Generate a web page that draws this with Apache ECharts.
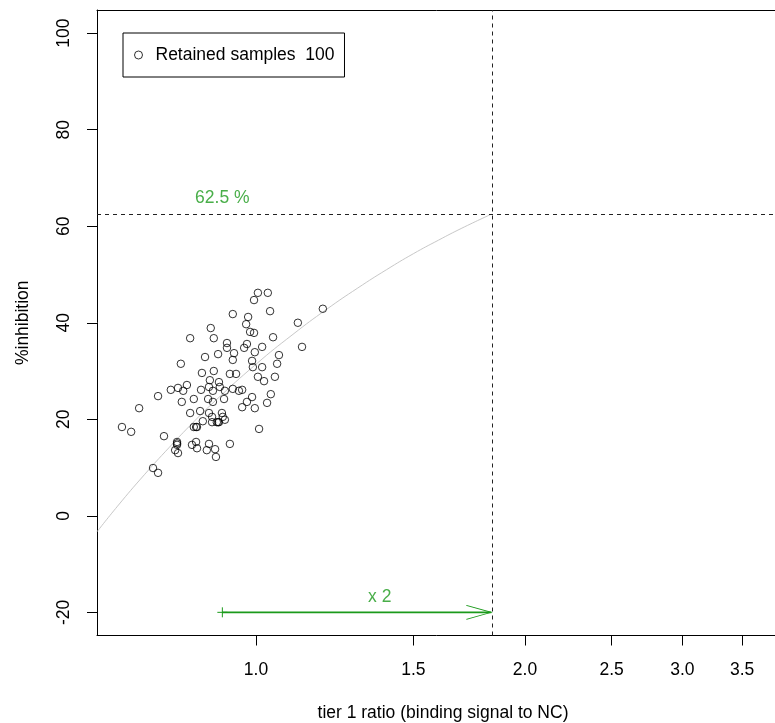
<!DOCTYPE html>
<html>
<head>
<meta charset="utf-8">
<title>Tier 1 ratio vs %inhibition</title>
<script src="https://cdn.jsdelivr.net/npm/echarts@6/dist/echarts.min.js"></script>
<style>
  html, body { margin: 0; padding: 0; background: #ffffff; }
  #chart { width: 775px; height: 723px; }
</style>
</head>
<body>
<div id="chart"></div>
<script>
// Retained samples: tier 1 ratio (binding signal to NC) and %inhibition
const sampleRatio = [
  0.708, 0.725, 0.740, 0.777, 0.789, 0.767, 0.777, 0.803, 0.818, 0.837,
  0.829, 0.824, 0.844, 0.826, 0.852, 0.844, 0.866, 0.870, 0.868, 0.877,
  0.890, 0.897, 0.907, 0.888, 0.909, 0.886, 0.911, 0.895, 0.923, 0.942,
  0.957, 0.884, 0.895, 0.921, 0.886, 0.916, 0.918, 0.893, 0.872, 0.893,
  0.904, 0.909, 0.923, 0.852, 0.859, 0.816, 0.816, 0.812, 0.818, 0.848,
  0.857, 0.859, 0.886, 0.881, 0.900, 0.902, 0.935, 0.897, 0.935, 0.950,
  0.942, 0.945, 0.928, 0.928, 0.942, 1.005, 1.031, 0.995, 1.037, 1.188,
  0.980, 0.975, 1.114, 0.985, 0.995, 1.045, 0.977, 0.970, 0.997, 1.016,
  1.126, 1.061, 1.056, 0.990, 0.992, 1.016, 1.005, 1.021, 1.050, 0.965,
  1.039, 0.990, 0.977, 0.965, 0.997, 1.029, 1.008, 0.907, 0.857, 0.816
];
const sampleInhibition = [
  18.4, 17.4, 22.3, 24.8, 16.5, 9.9, 8.9, 26.1, 26.5, 27.1,
  25.9, 31.5, 36.8, 23.6, 24.2, 21.3, 21.7, 29.6, 26.1, 32.9,
  38.9, 36.8, 33.5, 28.1, 27.7, 26.7, 26.7, 25.9, 25.9, 26.3,
  25.9, 24.2, 23.6, 24.2, 21.3, 21.3, 20.5, 20.5, 19.6, 19.4,
  19.4, 19.4, 19.9, 18.4, 18.4, 15.3, 14.7, 13.6, 13.0, 14.7,
  15.3, 14.0, 14.9, 13.6, 13.8, 12.2, 14.9, 30.0, 29.4, 29.4,
  32.3, 33.7, 35.8, 34.8, 41.8, 46.2, 46.2, 44.7, 42.4, 42.9,
  41.2, 39.7, 40.0, 38.1, 37.9, 37.0, 35.6, 34.8, 33.9, 35.0,
  35.0, 33.3, 31.5, 32.1, 30.8, 30.8, 28.8, 27.9, 28.8, 26.1,
  25.2, 24.6, 23.6, 22.5, 22.3, 23.4, 18.0, 19.4, 18.4, 15.0
];

// Fitted response curve, drawn up to the cut point
const curveRatio = [0.664, 0.70, 0.75, 0.80, 0.85, 0.90, 1.00, 1.10, 1.20, 1.30, 1.40, 1.50, 1.60, 1.70, 1.834];
const curveInhibition = [-3.3, 2.0, 8.5, 14.2, 19.3, 23.8, 31.4, 37.6, 42.8, 47.2, 51.0, 54.3, 57.1, 59.6, 62.5];

// Cut point: median ratio doubled, and its %inhibition on the curve
const medianRatio = 0.917;
const foldChange = 2;
const cutRatio = 1.834;
const cutInhibition = 62.5;
const arrowLevel = -20;

// Axis limits and tick labels (the right part of the frame runs past the page edge)
const xLimits = [0.6639, 3.949];
const yLimits = [-24.8, 104.8];
const xTickLabels = [1.0, 1.5, 2.0, 2.5, 3.0, 3.5];
const yTickLabels = [-20, 0, 20, 40, 60, 80, 100];

const legendName = 'Retained samples  ' + sampleRatio.length;
const GREEN = '#1b9a1b';
const FONT = 'Liberation Sans, Arial, sans-serif';
const FS = 17.5;

// The x axis is logarithmic: positions are placed on ln(ratio)
const ln = Math.log;
const points = sampleRatio.map((r, i) => [ln(r), sampleInhibition[i]]);
const curve = curveRatio.map((r, i) => [ln(r), curveInhibition[i]]);

const frameLine = { show: true, onZero: false, lineStyle: { color: '#000', width: 1 } };

const chart = echarts.init(document.getElementById('chart'), null, { renderer: 'canvas' });

chart.setOption({
  animation: false,
  backgroundColor: '#ffffff',
  textStyle: { fontFamily: FONT },
  grid: {
    left: 97, top: 10, right: -14, bottom: 87.5,
    show: false, containLabel: false, outerBoundsMode: 'none'
  },
  legend: {
    left: 123, top: 33,
    orient: 'vertical',
    padding: [13, 10, 13, 11],
    borderColor: '#000', borderWidth: 1,
    itemWidth: 8, itemHeight: 8,
    textStyle: { fontSize: FS, color: '#000', fontFamily: FONT, padding: [0, 0, 0, 8] },
    data: [{
      name: legendName,
      icon: 'circle',
      itemStyle: { color: 'transparent', borderColor: '#000', borderWidth: 1 }
    }]
  },
  xAxis: [
    {
      type: 'value',
      position: 'bottom',
      min: ln(xLimits[0]), max: ln(xLimits[1]),
      name: 'tier 1 ratio (binding signal to NC)',
      nameLocation: 'middle', nameGap: 69,
      nameTextStyle: { fontSize: FS, color: '#000', fontFamily: FONT },
      axisLine: frameLine,
      splitLine: { show: false },
      axisTick: {
        show: true, length: 10, inside: false,
        lineStyle: { color: '#000', width: 1 },
        customValues: xTickLabels.map(ln)
      },
      axisLabel: {
        fontSize: FS, color: '#000', margin: 26, fontFamily: FONT,
        customValues: xTickLabels.map(ln),
        formatter: v => Math.exp(v).toFixed(1)
      }
    },
    {
      // top edge of the plot frame
      type: 'value',
      position: 'top',
      min: ln(xLimits[0]), max: ln(xLimits[1]),
      axisLine: frameLine,
      axisTick: { show: false },
      axisLabel: { show: false },
      splitLine: { show: false }
    }
  ],
  yAxis: {
    type: 'value',
    min: yLimits[0], max: yLimits[1],
    name: '%inhibition',
    nameLocation: 'middle', nameGap: 65,
    nameTextStyle: { fontSize: FS, color: '#000', fontFamily: FONT },
    axisLine: frameLine,
    splitLine: { show: false },
    axisTick: {
      show: true, length: 10, inside: false,
      lineStyle: { color: '#000', width: 1 },
      customValues: yTickLabels
    },
    axisLabel: {
      fontSize: FS, color: '#000', margin: 24, rotate: 90, fontFamily: FONT,
      customValues: yTickLabels,
      formatter: v => String(Math.round(v))
    }
  },
  series: [
    {
      name: 'curve',
      type: 'line',
      data: curve,
      smooth: true,
      showSymbol: false,
      silent: true,
      lineStyle: { color: '#c8c8c8', width: 1 },
      z: 1
    },
    {
      name: legendName,
      type: 'scatter',
      data: points,
      symbol: 'circle',
      symbolSize: 7.5,
      itemStyle: { color: 'transparent', borderColor: '#000', borderWidth: 1 },
      z: 3
    },
    {
      name: 'cut',
      type: 'line',
      silent: true,
      data: [
        {
          value: [ln(medianRatio), arrowLevel],
          symbol: 'path://M5 0L5 10M0 5L10 5',
          symbolSize: 10,
          itemStyle: { color: 'none', borderColor: GREEN, borderWidth: 1 }
        },
        {
          value: [ln(cutRatio), arrowLevel],
          symbol: 'path://M0 0L25 7L0 14',
          symbolSize: [25, 14],
          symbolOffset: [-12.5, 0],
          itemStyle: { color: 'none', borderColor: GREEN, borderWidth: 1 }
        }
      ],
      lineStyle: { color: GREEN, width: 1.6 },
      z: 4,
      markLine: {
        silent: true,
        symbol: 'none',
        label: { show: false },
        lineStyle: { color: '#222', width: 1, type: [4, 4] },
        data: [
          { xAxis: ln(cutRatio) },
          { yAxis: cutInhibition }
        ]
      }
    },
    {
      name: 'notes',
      type: 'scatter',
      silent: true,
      symbolSize: 0,
      z: 5,
      data: [
        {
          value: [ln(medianRatio), cutInhibition],
          label: {
            show: true, position: 'top', distance: 7,
            formatter: cutInhibition + ' %',
            color: GREEN, fontSize: FS, fontFamily: FONT
          }
        },
        {
          value: [ln((medianRatio + cutRatio) / 2), arrowLevel],
          label: {
            show: true, position: 'top', distance: 6,
            formatter: 'x ' + foldChange,
            color: GREEN, fontSize: FS, fontFamily: FONT
          }
        }
      ]
    }
  ]
});
</script>
</body>
</html>
